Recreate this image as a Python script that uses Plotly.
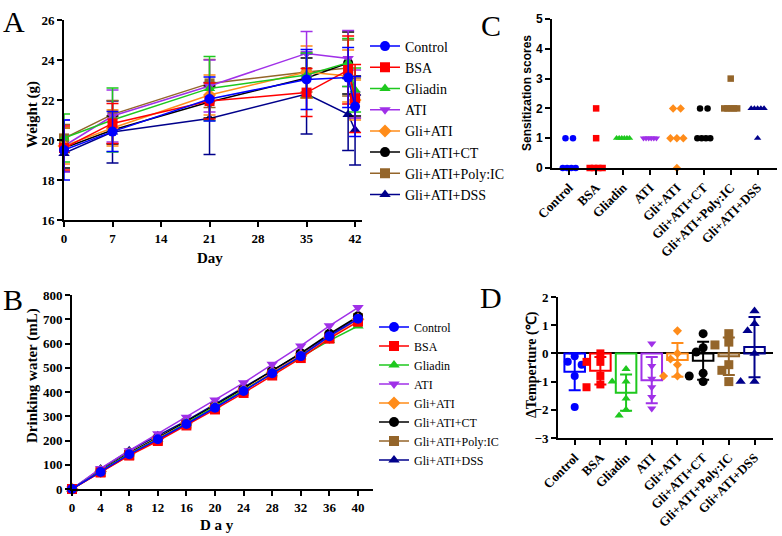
import numpy as np
import plotly.graph_objects as go

W, H = 782, 536

# ---------------- data ----------------
groups = ["Control", "BSA", "Gliadin", "ATI", "Gli+ATI", "Gli+ATI+CT", "Gli+ATI+Poly:IC", "Gli+ATI+DSS"]

# Panel A: body weight (g), mean and SD
weight_days = [0, 7, 21, 35, 41, 42]
weight_control = [19.5, 20.42, 22.05, 23.03, 23.12, 21.67]
weight_bsa = [19.6, 20.83, 21.95, 22.37, 23.5, 22.08]
weight_gliadin = [20.1, 21.0, 22.58, 23.25, 23.87, 22.5]
weight_ati = [19.7, 21.2, 22.7, 24.33, 24.08, 22.3]
weight_gliati = [19.7, 20.6, 22.25, 23.4, 23.2, 22.0]
weight_ct = [19.6, 20.5, 21.9, 23.1, 23.85, 22.2]
weight_polyic = [20.08, 21.28, 22.83, 23.4, 23.6, 22.1]
weight_dss = [19.33, 20.4, 21.08, 22.3, 21.28, 20.5]

sd_control = [1.5, 1.0, 1.1, 1.5, 1.5, 1.5]
sd_bsa = [1.1, 1.0, 0.9, 1.2, 1.7, 1.7]
sd_gliadin = [1.2, 1.6, 1.6, 1.1, 1.2, 1.1]
sd_ati = [1.3, 1.3, 1.3, 1.1, 1.4, 1.2]
sd_gliati = [0.9, 0.9, 1.0, 1.3, 1.3, 1.0]
sd_ct = [1.0, 0.7, 0.8, 1.0, 1.55, 1.0]
sd_polyic = [0.7, 0.7, 1.2, 1.0, 1.4, 1.0]
sd_dss = [0.9, 1.55, 1.8, 2.0, 1.8, 1.75]

# Panel B: cumulative drinking water (mL)
water_days = [0, 4, 8, 12, 16, 20, 24, 28, 32, 36, 40]
water_control = [0, 70, 143, 205, 268, 335, 404, 477, 548, 630, 702]
water_bsa = [0, 68, 138, 198, 262, 328, 396, 468, 540, 620, 690]
water_gliadin = [0, 72, 145, 205, 272, 338, 405, 475, 545, 612, 672]
water_ati = [0, 85, 158, 228, 296, 367, 438, 514, 590, 673, 748]
water_gliati = [0, 72, 145, 208, 272, 340, 408, 480, 550, 625, 700]
water_ct = [0, 75, 150, 212, 278, 345, 415, 487, 560, 640, 712]
water_polyic = [0, 70, 140, 203, 270, 338, 405, 478, 552, 628, 705]
water_dss = [0, 82, 158, 220, 282, 350, 418, 488, 558, 635, 708]

# Panel C: sensitization scores (individual animals)
score_control = [1, 1, 0, 0, 0, 0]
score_bsa = [2, 1, 0, 0, 0, 0]
score_gliadin = [1, 1, 1, 1, 1, 1]
score_ati = [1, 1, 1, 1, 1, 1]
score_gliati = [2, 2, 1, 1, 1, 0]
score_ct = [2, 2, 1, 1, 1, 1]
score_polyic = [3, 2, 2, 2, 2, 2]
score_dss = [2, 2, 2, 2, 2, 1]

# Panel D: change in temperature (°C)
temp_control = [-0.1, -0.3, -0.4, -0.4, -0.8, -1.9]
temp_bsa = [0.0, -0.3, -0.3, -0.8, -1.1, -1.2]
temp_gliadin = [-0.55, -1.0, -1.0, -1.6, -2.0, -2.2]
temp_ati = [0.35, -0.45, -0.9, -1.2, -1.55, -1.95]
temp_gliati = [0.8, 0.0, -0.2, -0.4, -0.8, -0.8]
temp_ct = [0.7, 0.2, 0.05, -0.7, -0.8, -1.0]
temp_polyic = [0.7, 0.4, 0.3, -0.4, -0.6, -1.0]
temp_dss = [1.5, 1.05, 0.8, 0.0, -1.0, -1.0]

weights = [weight_control, weight_bsa, weight_gliadin, weight_ati, weight_gliati, weight_ct, weight_polyic, weight_dss]
sds = [sd_control, sd_bsa, sd_gliadin, sd_ati, sd_gliati, sd_ct, sd_polyic, sd_dss]
waters = [water_control, water_bsa, water_gliadin, water_ati, water_gliati, water_ct, water_polyic, water_dss]
scores = [score_control, score_bsa, score_gliadin, score_ati, score_gliati, score_ct, score_polyic, score_dss]
temps = [temp_control, temp_bsa, temp_gliadin, temp_ati, temp_gliati, temp_ct, temp_polyic, temp_dss]

# ---------------- styles ----------------
colors = ["#0000FF", "#FF0000", "#1EC81E", "#A030E8", "#FF8C1A", "#000000", "#94652A", "#00008B"]
symbols = ["circle", "square", "triangle-up", "triangle-down", "diamond", "circle", "square", "triangle-up"]
dsizes = [8, 8, 8, 8, 7, 9, 9, 9]
SERIF = "Liberation Serif, Times New Roman, serif"
SANS = "Liberation Sans, Arial, sans-serif"

def px(x):
    return x / W

def py(y):
    return 1 - y / H

fig = go.Figure()

# Panel A and B line charts (drawn in reverse so Control is on top)
for i in reversed(range(8)):
    fig.add_trace(go.Scatter(
        x=weight_days, y=weights[i], name=groups[i], mode="lines+markers",
        line=dict(color=colors[i], width=1.5),
        marker=dict(symbol=symbols[i], size=10, color=colors[i]),
        error_y=dict(type="data", array=sds[i], color=colors[i], thickness=1.5, width=6),
        cliponaxis=False, xaxis="x", yaxis="y", legend="legend"))
for i in reversed(range(8)):
    fig.add_trace(go.Scatter(
        x=water_days, y=waters[i], name=groups[i], mode="lines+markers",
        line=dict(color=colors[i], width=1.5),
        marker=dict(symbol=symbols[i], size=10, color=colors[i]),
        cliponaxis=False, xaxis="x2", yaxis="y2", legend="legend2"))

# Panel C: scatter dot plot, points spread horizontally within equal values
for i in range(8):
    vals = np.array(scores[i])
    xs, ys = [], []
    for v in sorted(set(vals), reverse=True):
        n = int((vals == v).sum())
        half = min((n - 1) * 0.14, 0.24)
        offs = np.linspace(-half, half, n) if n > 1 else np.array([0.0])
        xs += list(i + offs)
        ys += [v] * n
    fig.add_trace(go.Scatter(
        x=xs, y=ys, mode="markers", showlegend=False,
        marker=dict(symbol=symbols[i], size=6.5, color=colors[i]),
        cliponaxis=False, xaxis="x3", yaxis="y3"))

# Panel D: mean bar with SD plus individual points
for i in range(8):
    t = np.array(temps[i])
    fig.add_trace(go.Bar(
        x=[i], y=[t.mean()], width=0.8, showlegend=False,
        marker=dict(color="rgba(255,255,255,0)", line=dict(color=colors[i], width=2)),
        error_y=dict(type="data", array=[t.std(ddof=1)], color=colors[i], thickness=2, width=6),
        xaxis="x4", yaxis="y4"))

xpx_unit = 25.7   # pixels per category (D)
ypx_unit = 28.3   # pixels per degree (D)
d = 0.27
for i in range(8):
    t = sorted(temps[i], reverse=True)
    placed = []
    for v in t:
        for o in [0, -d, d, -2 * d, 2 * d]:
            ok = True
            for (po, pv) in placed:
                dist = np.hypot((o - po) * xpx_unit, (v - pv) * ypx_unit)
                if dist < 8:
                    ok = False
                    break
            if ok:
                placed.append((o, v))
                break
    fig.add_trace(go.Scatter(
        x=[i + p[0] for p in placed], y=[p[1] for p in placed], mode="markers", showlegend=False,
        marker=dict(symbol=symbols[i], size=dsizes[i], color=colors[i]),
        cliponaxis=False, xaxis="x4", yaxis="y4"))

def axis(**kw):
    base = dict(showline=True, linecolor="black", linewidth=2, ticks="outside", ticklen=5,
                tickwidth=2, tickcolor="black", showgrid=False, zeroline=False, automargin=False,
                tickfont=dict(family=SERIF, size=13, color="black", weight="bold"))
    base.update(kw)
    return base

fig.update_layout(
    width=W, height=H, margin=dict(l=0, r=0, t=0, b=0, pad=0, autoexpand=False),
    paper_bgcolor="white", plot_bgcolor="white",
    xaxis=axis(domain=[px(64), px(362)], range=[0, 43], tickvals=[0, 7, 14, 21, 28, 35, 42], anchor="y"),
    yaxis=axis(domain=[py(220), py(20)], range=[16, 26], dtick=2, anchor="x"),
    xaxis2=axis(domain=[px(72), px(373)], range=[0, 42.1], tickvals=list(range(0, 41, 4)), anchor="y2"),
    yaxis2=axis(domain=[py(489), py(295)], range=[0, 800], dtick=100, anchor="x2"),
    xaxis3=axis(domain=[px(552), px(777)], range=[-0.64, 7.72], tickvals=list(range(8)), ticktext=groups,
                tickangle=-45, anchor="y3"),
    yaxis3=axis(domain=[py(168), py(19)], range=[0, 5], dtick=1, anchor="x3",
                tickfont=dict(family=SANS, size=12, color="black", weight="bold")),
    xaxis4=axis(domain=[px(558), px(773)], range=[-0.65, 7.72], tickvals=list(range(8)), ticktext=groups,
                tickangle=-45, anchor="y4"),
    yaxis4=axis(domain=[py(438), py(297)], range=[-3, 2], dtick=1, anchor="x4",
                zeroline=True, zerolinecolor="black", zerolinewidth=2),
    legend=dict(x=px(365), y=py(30.5), xanchor="left", yanchor="top", traceorder="reversed",
                bgcolor="rgba(0,0,0,0)", font=dict(family=SERIF, size=14, color="black")),
    legend2=dict(x=px(374), y=py(312.5), xanchor="left", yanchor="top", traceorder="reversed",
                 bgcolor="rgba(0,0,0,0)", font=dict(family=SERIF, size=12, color="black")),
    bargap=0.2,
    showlegend=True,
)

ann = []
def label(text, x, y, size, angle=0, family=SERIF, bold=True):
    ann.append(dict(text=text, x=px(x), y=py(y), xref="paper", yref="paper", showarrow=False,
                    textangle=angle, xanchor="center", yanchor="middle",
                    font=dict(family=family, size=size, color="black", weight="bold" if bold else "normal")))

label("A", 14, 22, 30, bold=False)
label("B", 13, 299, 30, bold=False)
label("C", 491, 25, 30, bold=False)
label("D", 491, 297, 30, bold=False)
label("Weight (g)", 32, 115, 15, angle=-90)
label("Day", 210, 258, 15)
label("Drinking water (mL)", 32, 376, 15, angle=-90)
label("D a y", 217, 525, 15)
label("Sensitization scores", 527, 93, 12, angle=-90, family=SANS)
label("ΔTemperture (℃)", 532, 365, 14, angle=-90)
fig.update_layout(annotations=ann)

fig.write_html("out.html", config={"displayModeBar": False},
               post_script="document.body.style.margin='0px';")
